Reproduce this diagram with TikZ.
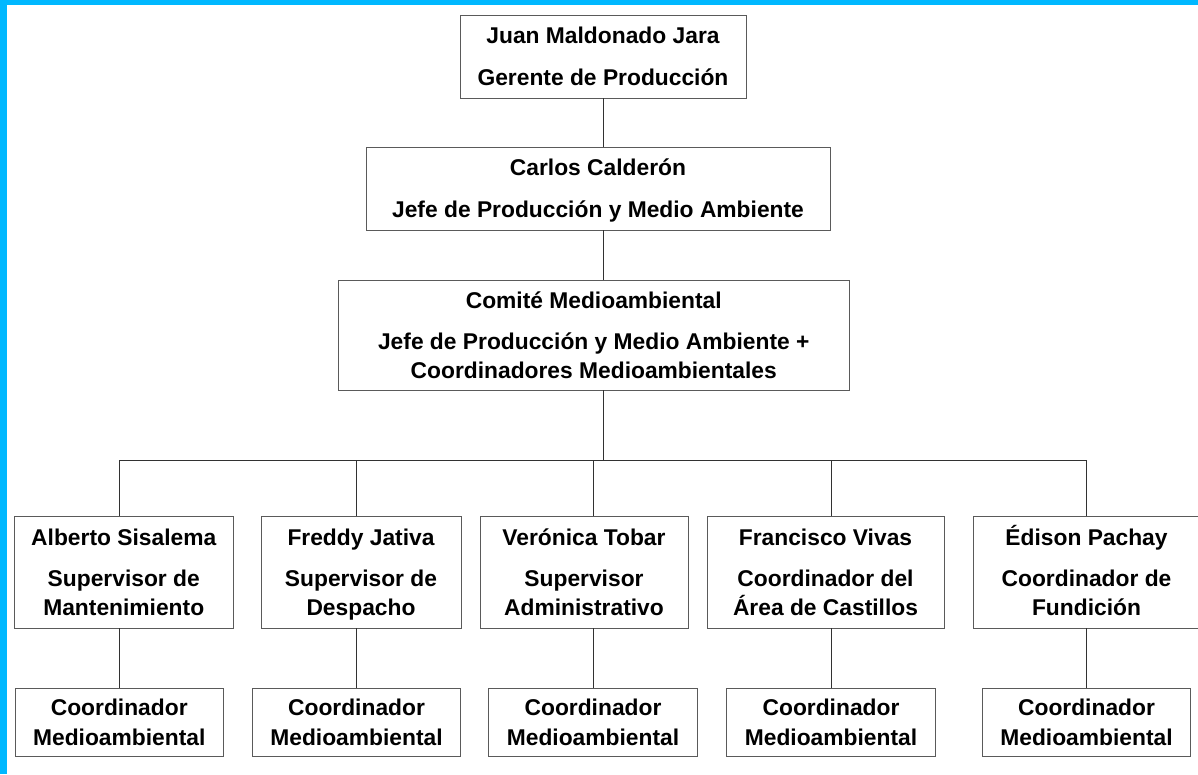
\documentclass[tikz,border=0pt]{standalone}
\usepackage{fontspec}
\setmainfont{Liberation Sans}
\definecolor{frameblue}{RGB}{0,184,255}
\definecolor{boxline}{RGB}{90,90,90}
\definecolor{conline}{RGB}{50,50,50}
\newcommand\ls{\rule[-5pt]{0pt}{26pt}}
\begin{document}
\begin{tikzpicture}[x=1pt,y=-1pt,
  box/.style={draw=boxline, line width=1pt, inner sep=0pt, outer sep=0pt, align=center,
    font=\fontsize{22.8}{28.5}\selectfont\bfseries, text=black},
  bbox/.style={box, font=\fontsize{22.8}{30}\selectfont\bfseries, minimum height=68, minimum width=208.5},
  rbox/.style={box, minimum height=112},
  link/.style={draw=conline, line width=1pt}]
\useasboundingbox (0,0) rectangle (1198,774);
\fill[white] (0,0) rectangle (1198,774);
\fill[frameblue] (0,0) rectangle (7,774);
\fill[frameblue] (0,0) rectangle (1198,5);

% upper chain
\node[box, minimum width=286, minimum height=83] (top) at (603,56.5)
  {\ls Juan Maldonado Jara\\[13pt]\ls Gerente de Producción};
\node[box, minimum width=464, minimum height=83] (jefe) at (598,188.5)
  {\ls Carlos Calderón\\[13pt]\ls Jefe de Producción y Medio Ambiente};
\node[box, minimum width=510.5, minimum height=110] (com) at (593.75,335)
  {\ls Comité Medioambiental\\[13pt]\ls Jefe de Producción y Medio Ambiente +\\\ls Coordinadores Medioambientales};

% second row
\node[rbox, minimum width=218.5] (ra) at (123.75,572)
  {\ls Alberto Sisalema\\[13pt]\ls Supervisor de\\\ls Mantenimiento};
\node[rbox, minimum width=200] (rb) at (361,572)
  {\ls Freddy Jativa\\[13pt]\ls Supervisor de\\\ls Despacho};
\node[rbox, minimum width=208] (rc) at (584,572)
  {\ls Verónica Tobar\\[13pt]\ls Supervisor\\\ls Administrativo};
\node[rbox, minimum width=237] (rd) at (825.5,572)
  {\ls Francisco Vivas\\[13pt]\ls Coordinador del\\\ls Área de Castillos};
\node[rbox, minimum width=236, anchor=west] (re) at (973,572)
  {\hspace*{-9pt}\ls Édison Pachay\\[13pt]\hspace*{-9pt}\ls Coordinador de\\\hspace*{-9pt}\ls Fundición};

% bottom row
\node[bbox] (ba) at (119.25,722) {\ls Coordinador\\\ls Medioambiental};
\node[bbox] (bb) at (356.5,722) {\ls Coordinador\\\ls Medioambiental};
\node[bbox] (bc) at (593,722) {\ls Coordinador\\\ls Medioambiental};
\node[bbox] (bd) at (831,722) {\ls Coordinador\\\ls Medioambiental};
\node[bbox] (be) at (1086.5,722) {\ls Coordinador\\\ls Medioambiental};

% connectors
\coordinate (bar) at (603,460.5);
\draw[link] (top.south) -- (top.south |- jefe.north);
\draw[link] (top.south |- jefe.south) -- (top.south |- com.north);
\draw[link] (top.south |- com.south) -- (bar);
\draw[link] (ba.north |- bar) -- (be.north |- bar);
\foreach \r/\b in {ra/ba, rb/bb, rc/bc, rd/bd, re/be}{
  \draw[link] (\b.north |- bar) -- (\b.north |- \r.north);
  \draw[link] (\b.north |- \r.south) -- (\b.north);
}
\end{tikzpicture}
\end{document}
